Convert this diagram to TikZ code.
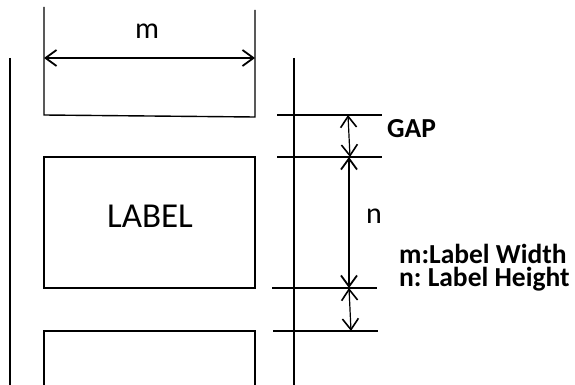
\documentclass[tikz,border=0pt]{standalone}
\usepackage{fontspec}
\setmainfont{Carlito}
\usetikzlibrary{arrows.meta}
\begin{document}
\begin{tikzpicture}[x=1pt,y=-1pt,
  web/.style={line width=2pt},
  tick/.style={line width=1.4pt},
  dim/.style={line width=1.8pt,{Straight Barb[length=11pt,width=16pt,line width=1.8pt]}-{Straight Barb[length=11pt,width=16pt,line width=1.8pt]}},
  thindim/.style={line width=1.2pt,{Straight Barb[length=11pt,width=16pt,line width=1.6pt]}-{Straight Barb[length=11pt,width=16pt,line width=1.6pt]}},
  lbl/.style={font=\fontsize{30}{34}\selectfont,inner sep=0pt},
  bold/.style={font=\fontsize{27.5}{23}\selectfont\bfseries,inner sep=0pt,anchor=west}]
\useasboundingbox (0,0) rectangle (575,385);
% web edges
\coordinate (wl1) at (10,58); \coordinate (wl2) at (10,385);
\coordinate (wr1) at (294,58); \coordinate (wr2) at (294,385);
\draw[web] (wl1) -- (wl2);
\draw[web] (wr1) -- (wr2);
% top label
\coordinate (a1) at (44,7); \coordinate (a2) at (44,115);
\coordinate (a3) at (255,117); \coordinate (a4) at (255,10);
\draw[tick] (a1) -- (a2) -- (a3) -- (a4);
\coordinate (ml) at (44,58); \coordinate (mr) at (255,58);
\draw[dim] (ml) -- (mr);
\node[lbl] (m) at (147,31) {m};
% middle label
\node[draw,line width=1.4pt,minimum width=211pt,minimum height=131pt,inner sep=0pt] (box) at (149.5,222.5) {};
\node[lbl,font=\fontsize{35}{40}\selectfont] (label) at (150,216) {LABEL};
% bottom label
\coordinate (c1) at (44,385); \coordinate (c2) at (44,331);
\coordinate (c3) at (255,331); \coordinate (c4) at (255,385);
\draw[tick] (c1) -- (c2) -- (c3) -- (c4);
% ticks
\coordinate (t1l) at (277,115); \coordinate (t1r) at (382,115);
\coordinate (t2l) at (277,157); \coordinate (t2r) at (382,157);
\coordinate (t3l) at (272,288); \coordinate (t3r) at (377,288);
\coordinate (t4l) at (273,331); \coordinate (t4r) at (378,331);
\draw[tick] (t1l) -- (t1r);
\draw[tick] (t2l) -- (t2r);
\draw[tick] (t3l) -- (t3r);
\draw[tick] (t4l) -- (t4r);
% dimension arrows
\coordinate (g1) at (348,115); \coordinate (g2) at (350,157);
\coordinate (n1) at (349,157); \coordinate (n2) at (349,288);
\coordinate (h1) at (349,288); \coordinate (h2) at (351,331);
\draw[thindim] (g1) -- (g2);
\draw[dim] (n1) -- (n2);
\draw[thindim] (h1) -- (h2);
\node[lbl] (n) at (374,216) {n};
\node[bold] (gap) at (387,129) {GAP};
\node[bold,align=left] (legend) at (399,268) {m:Label Width\\n:~Label Height};
\end{tikzpicture}
\end{document}
